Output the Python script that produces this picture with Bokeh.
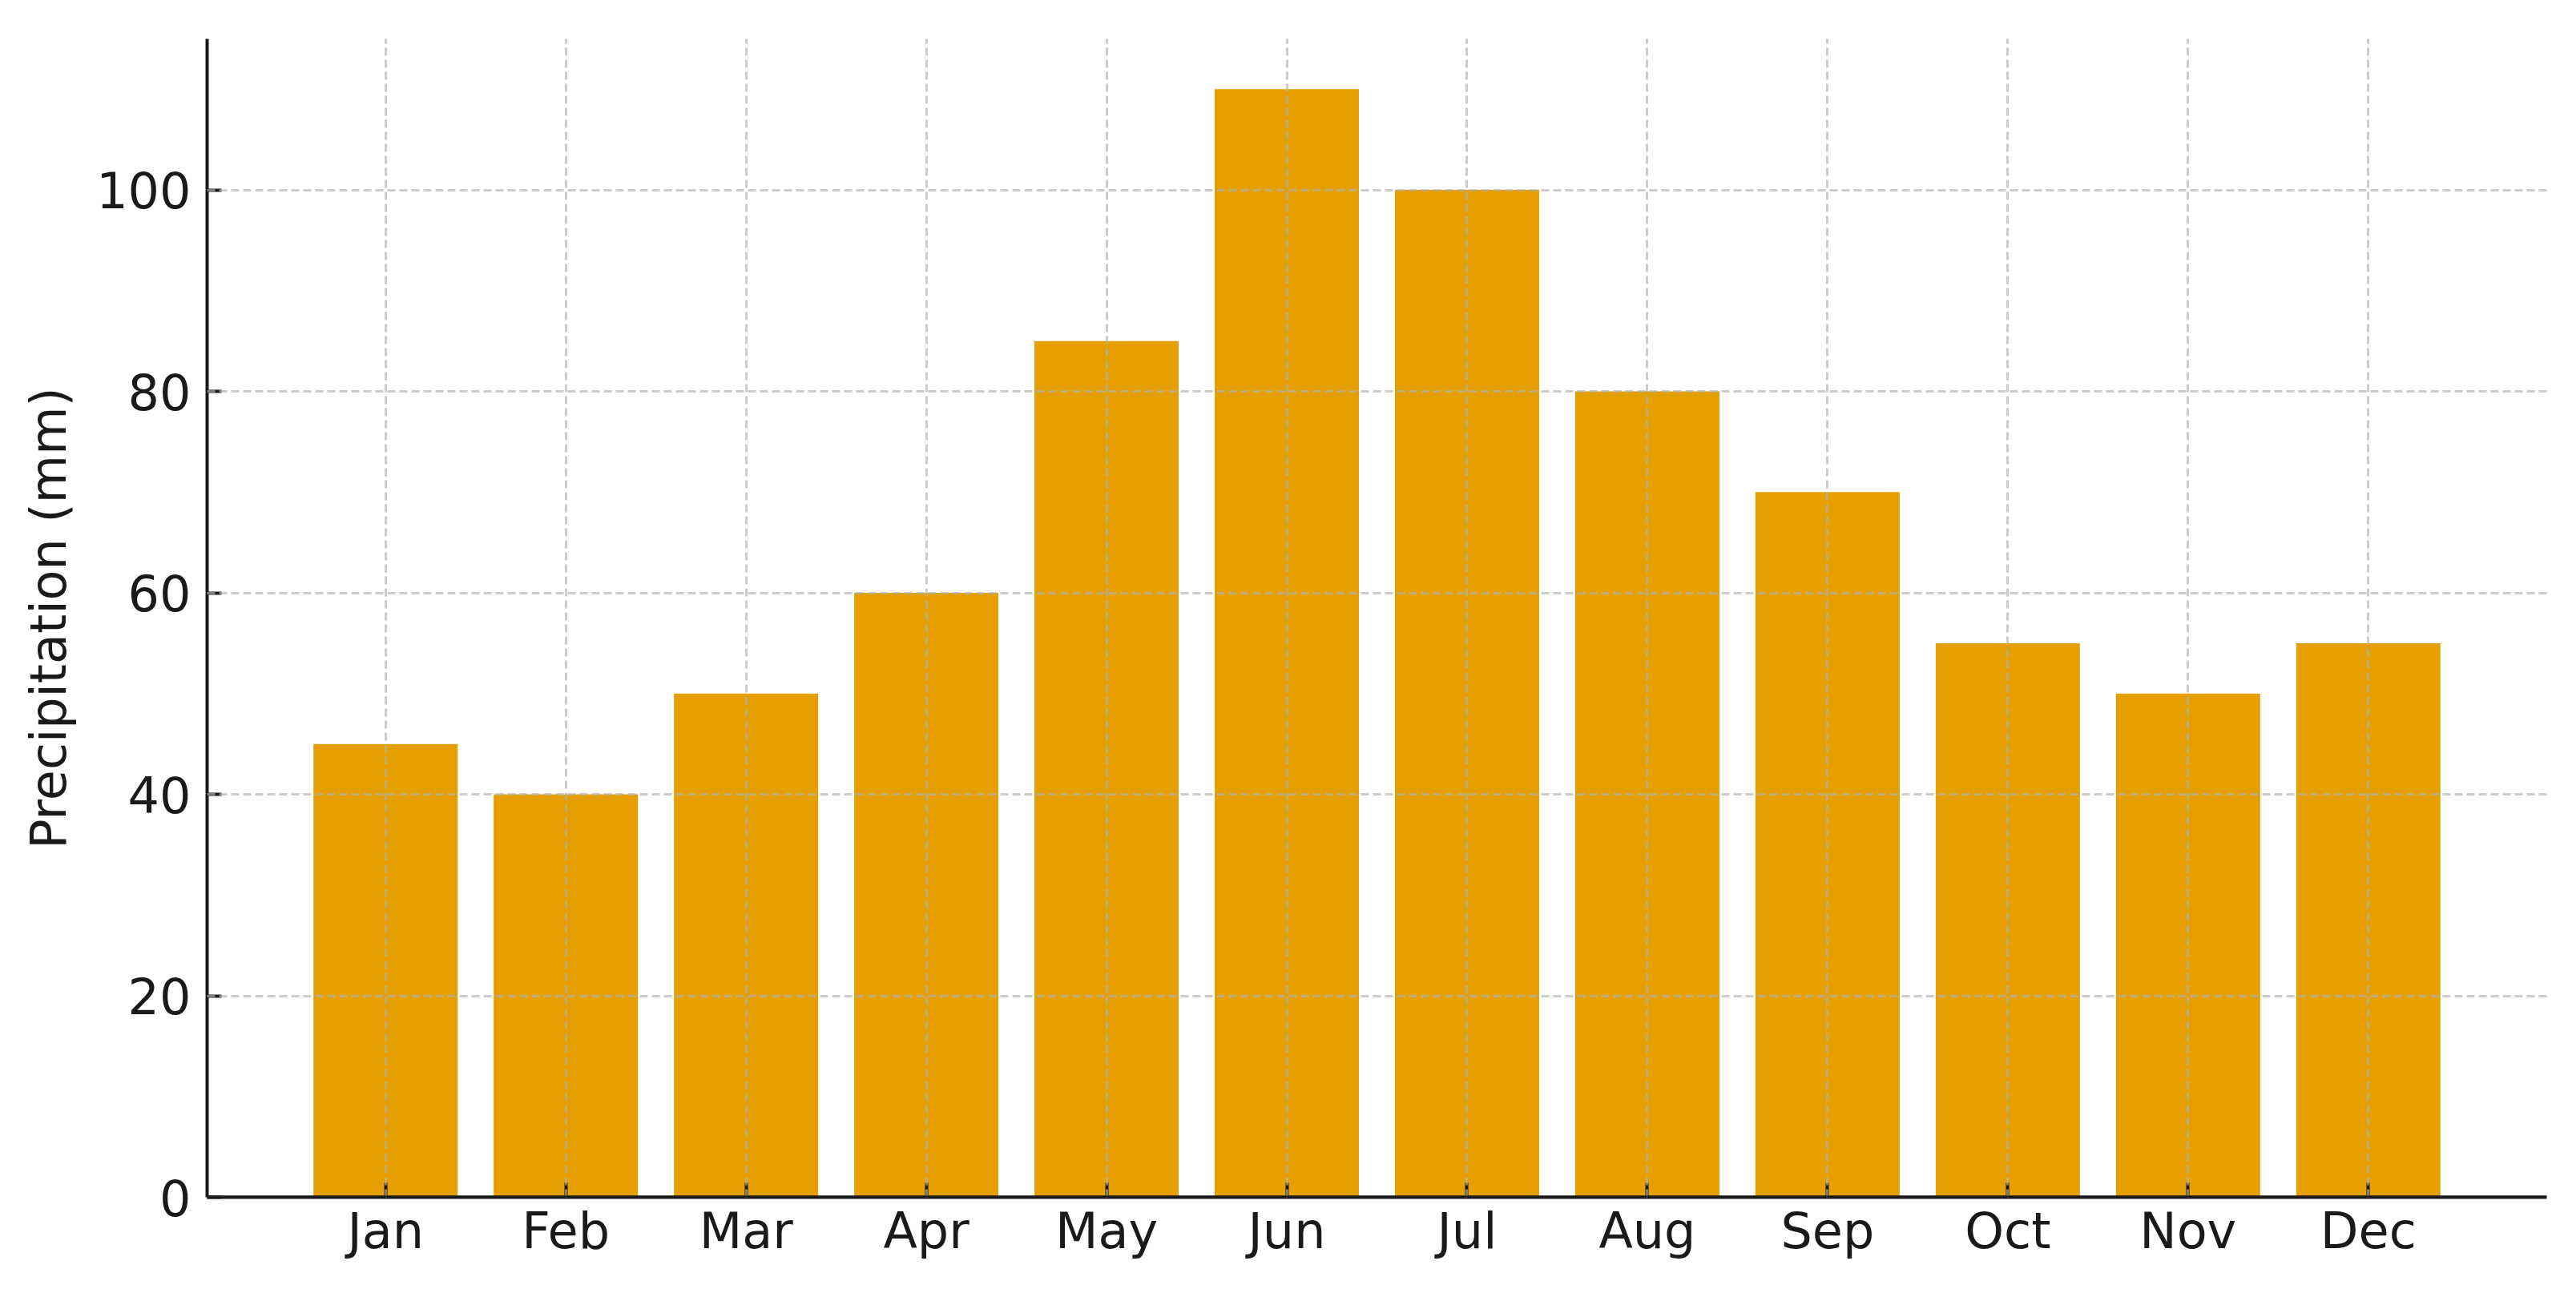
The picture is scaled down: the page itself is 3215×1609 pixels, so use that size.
from bokeh.plotting import figure
from bokeh.models import Range1d, FixedTicker, Span
from bokeh.embed import file_html
from bokeh.resources import INLINE

months = ["Jan", "Feb", "Mar", "Apr", "May", "Jun", "Jul", "Aug", "Sep", "Oct", "Nov", "Dec"]
precip = [45, 40, 50, 60, 85, 110, 100, 80, 70, 55, 50, 55]
y_ticks = [0, 20, 40, 60, 80, 100]

xs = list(range(len(months)))
x_lo, x_hi = -0.99, 11.99
y_lo, y_hi = 0, 115.0

p = figure(width=3199, height=1593, output_backend="svg", toolbar_location=None,
           x_range=Range1d(x_lo, x_hi), y_range=Range1d(y_lo, y_hi),
           min_border_left=258, min_border_top=48, min_border_right=21, min_border_bottom=99)
p.outline_line_color = None
p.background_fill_color = "white"
p.border_fill_color = "white"

p.vbar(x=xs, top=precip, width=0.8, bottom=0, fill_color="#E69F00", line_color=None)

font = "DejaVu Sans"
for ax in (p.xaxis[0], p.yaxis[0]):
    ax.axis_line_color = "#1a1a1a"
    ax.axis_line_width = 4
    ax.major_tick_line_color = "#1a1a1a"
    ax.major_tick_line_width = 4
    ax.major_tick_in = 18
    ax.major_tick_out = 0
    ax.minor_tick_line_color = None
    ax.major_label_text_font = font
    ax.major_label_text_font_size = "62px"
    ax.major_label_text_color = "#1a1a1a"

p.xaxis.ticker = FixedTicker(ticks=xs)
p.xaxis.major_label_overrides = {i: m for i, m in enumerate(months)}
p.xaxis.major_label_standoff = 5
p.yaxis.ticker = FixedTicker(ticks=y_ticks)
p.yaxis.major_label_standoff = 20

p.yaxis.axis_label = "Precipitation (mm)"
p.yaxis.axis_label_text_font = font
p.yaxis.axis_label_text_font_size = "62px"
p.yaxis.axis_label_text_font_style = "normal"
p.yaxis.axis_label_text_color = "#1a1a1a"
p.yaxis.axis_label_standoff = 20

for g in (p.xgrid[0], p.ygrid[0]):
    g.grid_line_color = "#b0b0b0"
    g.grid_line_alpha = 0.65
    g.grid_line_width = 3
    g.grid_line_dash = "10 5"
    g.level = "overlay"

# baseline spine across the full frame width
p.add_layout(Span(location=y_lo, dimension="width", line_color="#1a1a1a",
                  line_width=4, level="overlay"))

open("out.html", "w").write(file_html(p, INLINE))
